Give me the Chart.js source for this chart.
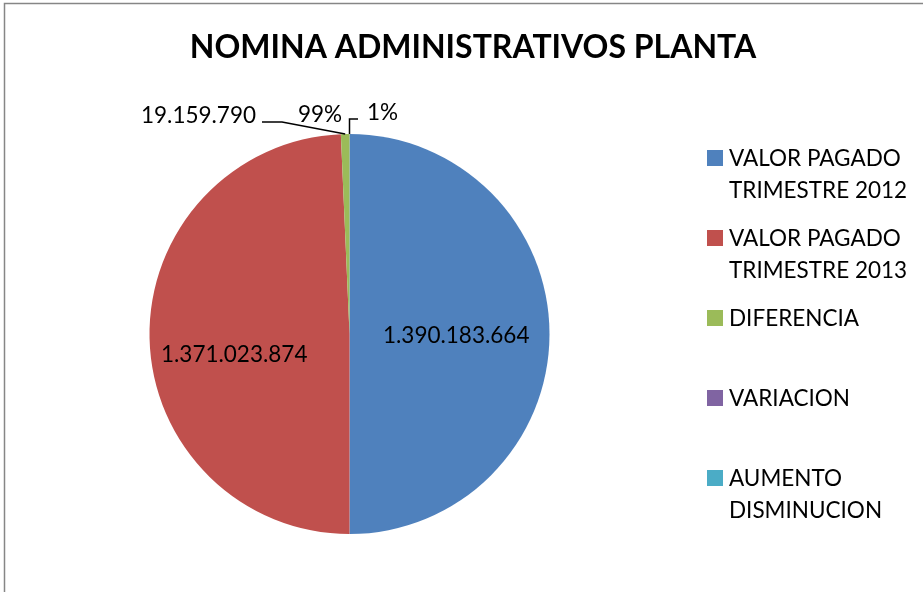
<!DOCTYPE html>
<html>
<head>
<meta charset="utf-8">
<script src="https://cdn.jsdelivr.net/npm/chart.js@4/dist/chart.umd.min.js"></script>
<style>
  html, body { margin: 0; padding: 0; background: #fff; }
  #wrap { position: relative; width: 923px; height: 592px; }
</style>
</head>
<body>
<div id="wrap"><canvas id="c" width="923" height="592"></canvas></div>
<script>
const title = 'NOMINA ADMINISTRATIVOS PLANTA';
const categories = [
    ['VALOR PAGADO', 'TRIMESTRE 2012'],
    ['VALOR PAGADO', 'TRIMESTRE 2013'],
    ['DIFERENCIA'],
    ['VARIACION'],
    ['AUMENTO', 'DISMINUCION']
];
const values = [1390183664, 1371023874, 19159790, 0.9862, 0.0138];
const valueLabels = ['1.390.183.664', '1.371.023.874', '19.159.790', '99%', '1%'];
const colors = ['#4F81BD', '#C0504D', '#9BBB59', '#8064A2', '#4BACC6'];

const FONT = 'Lato, "Open Sans", sans-serif';

// frame, title, legend and data labels drawn by hand
const extras = {
    id: 'extras',
    beforeDraw(chart) {
        const ctx = chart.ctx;
        ctx.save();
        ctx.fillStyle = '#fff';
        ctx.fillRect(0, 0, chart.width, chart.height);
        ctx.strokeStyle = '#868686';
        ctx.lineWidth = 1.5;
        ctx.strokeRect(4.5, 3.5, chart.width + 10, chart.height + 10);
        ctx.restore();
    },
    afterDraw(chart) {
        const ctx = chart.ctx;
        const meta = chart.getDatasetMeta(0);
        ctx.save();

        // title
        ctx.fillStyle = '#000';
        ctx.font = 'bold 32px ' + FONT;
        ctx.textAlign = 'center';
        ctx.textBaseline = 'middle';
        ctx.fillText(title, 473, 48);

        // legend
        ctx.font = '22.5px ' + FONT;
        ctx.textAlign = 'left';
        categories.forEach((lines, i) => {
            const y = 158 + i * 80;
            ctx.fillStyle = colors[i];
            ctx.fillRect(707, y - 8, 16, 16);
            ctx.fillStyle = '#000';
            lines.forEach((t, j) => ctx.fillText(t, 729, y + j * 32 + 1));
        });

        // data labels
        const arcs = meta.data;
        const cx = arcs[0].x, cy = arcs[0].y, r = arcs[0].outerRadius;
        ctx.fillStyle = '#000';
        ctx.font = '22.5px ' + FONT;
        ctx.textBaseline = 'middle';
        ctx.textAlign = 'left';
        ctx.fillText(valueLabels[0], 383, 336);
        ctx.fillText(valueLabels[1], 161, 355);
        ctx.textAlign = 'right';
        ctx.fillText(valueLabels[2], 256, 116);
        ctx.textAlign = 'left';
        ctx.fillText(valueLabels[3], 298, 115);
        ctx.fillText(valueLabels[4], 367, 113);

        // leader lines
        const mid = a => (a.startAngle + a.endAngle) / 2;
        const edge = a => [cx + r * Math.cos(mid(a)), cy + r * Math.sin(mid(a))];
        ctx.strokeStyle = '#000';
        ctx.lineWidth = 1.5;
        let [ex, ey] = edge(arcs[2]);
        ctx.beginPath();
        ctx.moveTo(262, 122);
        ctx.lineTo(282, 122);
        ctx.lineTo(ex, ey);
        ctx.stroke();
        [ex, ey] = edge(arcs[4]);
        ctx.beginPath();
        ctx.moveTo(ex, ey);
        ctx.lineTo(ex, 119);
        ctx.lineTo(358, 119);
        ctx.stroke();
        ctx.restore();
    }
};

new Chart(document.getElementById('c'), {
    type: 'pie',
    data: {
        labels: categories.map(l => l.join(' ')),
        datasets: [{
            data: values,
            backgroundColor: colors,
            borderWidth: 0
        }]
    },
    options: {
        responsive: false,
        animation: false,
        layout: { padding: { left: 149.5, right: 373.5, top: 134, bottom: 58 } },
        plugins: {
            legend: { display: false },
            title: { display: false },
            tooltip: { enabled: false }
        }
    },
    plugins: [extras]
});
</script>
</body>
</html>
